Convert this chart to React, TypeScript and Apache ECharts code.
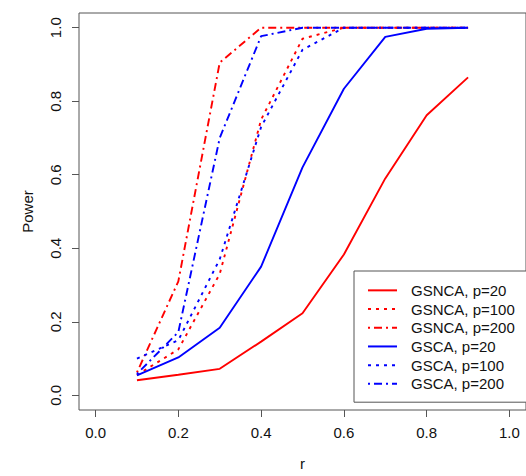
import React, { useEffect, useRef } from "react";
import * as echarts from "echarts";

const rValues = [0.1, 0.2, 0.3, 0.4, 0.5, 0.6, 0.7, 0.8, 0.9];
const gsnca20 = [0.041, 0.056, 0.072, 0.146, 0.223, 0.383, 0.59, 0.762, 0.865];
const gsnca100 = [0.055, 0.125, 0.33, 0.75, 0.97, 1.0, 1.0, 1.0, 1.0];
const gsnca200 = [0.062, 0.31, 0.905, 1.0, 1.0, 1.0, 1.0, 1.0, 1.0];
const gsca20 = [0.054, 0.103, 0.184, 0.35, 0.62, 0.834, 0.975, 0.997, 1.0];
const gsca100 = [0.1, 0.15, 0.37, 0.73, 0.94, 1.0, 1.0, 1.0, 1.0];
const gsca200 = [0.058, 0.172, 0.7, 0.977, 1.0, 1.0, 1.0, 1.0, 1.0];
const tickValues = [0, 0.2, 0.4, 0.6, 0.8, 1.0];
const seriesNames = [
  "GSNCA, p=20",
  "GSNCA, p=100",
  "GSNCA, p=200",
  "GSCA, p=20",
  "GSCA, p=100",
  "GSCA, p=200",
];

const FONT = "'Liberation Sans', Arial, sans-serif";

export default function App() {
  const ref = useRef<HTMLDivElement>(null);
  useEffect(() => {
    if (!ref.current) return;
    const chart = echarts.init(ref.current, undefined, { renderer: "svg" });
    const solid = "solid";
    const dotted = [3, 5];
    const dotdash = [2, 4, 8, 4];
    const defs = [
      { data: gsnca20, color: "#ff0000", type: solid },
      { data: gsnca100, color: "#ff0000", type: dotted },
      { data: gsnca200, color: "#ff0000", type: dotdash },
      { data: gsca20, color: "#0000ff", type: solid },
      { data: gsca100, color: "#0000ff", type: dotted },
      { data: gsca200, color: "#0000ff", type: dotdash },
    ];
    const fmt = (v: number) => v.toFixed(1);
    chart.setOption({
      animation: false,
      backgroundColor: "#ffffff",
      textStyle: { fontFamily: FONT },
      grid: {
        left: 79,
        right: -4,
        top: 13,
        bottom: 60,
        show: true,
        borderColor: "#555",
        borderWidth: 1,
        backgroundColor: "transparent",
      },
      xAxis: {
        type: "value",
        min: -0.04,
        max: 1.04,
        name: "r",
        nameLocation: "middle",
        nameGap: 46,
        nameTextStyle: { fontSize: 15, color: "#111", fontFamily: FONT },
        axisLine: { show: false, onZero: false },
        splitLine: { show: false },
        axisTick: {
          show: true,
          customValues: tickValues,
          length: 7,
          lineStyle: { color: "#555" },
        },
        axisLabel: {
          customValues: tickValues,
          formatter: fmt,
          fontSize: 15,
          color: "#111",
          margin: 15,
          fontFamily: FONT,
        },
      },
      yAxis: {
        type: "value",
        min: -0.04,
        max: 1.04,
        name: "Power",
        nameLocation: "middle",
        nameGap: 44,
        nameTextStyle: { fontSize: 15, color: "#111", fontFamily: FONT },
        axisLine: { show: false, onZero: false },
        splitLine: { show: false },
        axisTick: {
          show: true,
          customValues: tickValues,
          length: 7,
          lineStyle: { color: "#555" },
        },
        axisLabel: {
          customValues: tickValues,
          formatter: fmt,
          fontSize: 15,
          color: "#111",
          rotate: 90,
          margin: 16,
          fontFamily: FONT,
        },
      },
      legend: {
        orient: "vertical",
        left: 354,
        top: 271,
        data: seriesNames,
        itemWidth: 29,
        itemHeight: 14,
        itemGap: 0,
        padding: [10, 16, 9, 13],
        borderColor: "#555",
        borderWidth: 1,
        backgroundColor: "#ffffff",
        itemStyle: { opacity: 0 },
        textStyle: {
          fontSize: 15,
          color: "#111",
          lineHeight: 18.7,
          padding: [0, 0, 0, 9],
          fontFamily: FONT,
        },
      },
      series: defs.map((d, i) => ({
        name: seriesNames[i],
        type: "line",
        data: rValues.map((r, j) => [r, d.data[j]]),
        symbol: "none",
        color: d.color,
        lineStyle: { color: d.color, width: 1.9, type: d.type },
        z: 2 + i,
      })),
    });
    return () => chart.dispose();
  }, []);
  return <div ref={ref} style={{ width: 526, height: 476, position: "absolute", left: 0, top: 0 }} />;
}
